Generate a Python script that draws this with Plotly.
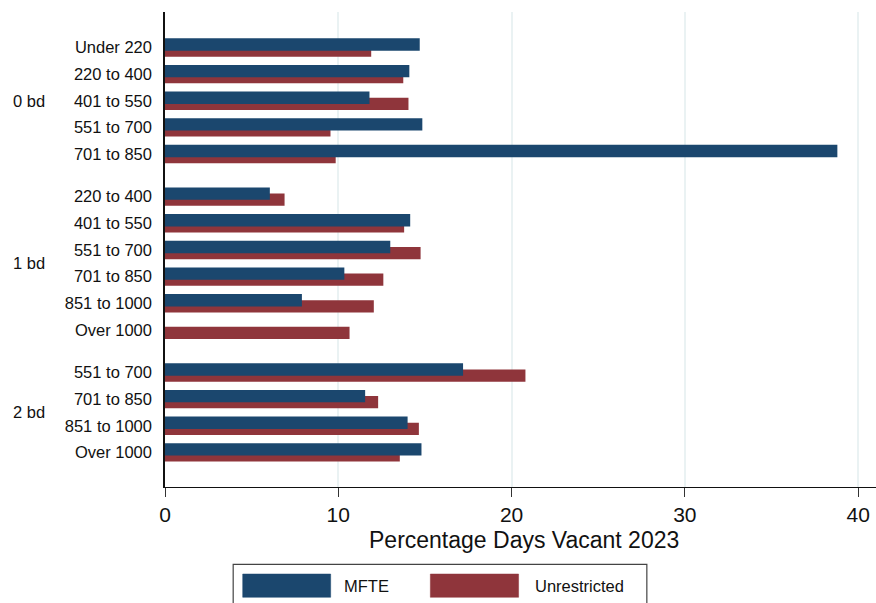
import plotly.graph_objects as go

# ---------------- data ----------------
groups = ["0 bd", "1 bd", "2 bd"]
ranges_0bd = ["Under 220", "220 to 400", "401 to 550", "551 to 700", "701 to 850"]
ranges_1bd = ["220 to 400", "401 to 550", "551 to 700", "701 to 850", "851 to 1000", "Over 1000"]
ranges_2bd = ["551 to 700", "701 to 850", "851 to 1000", "Over 1000"]

mfte_0bd = [14.7, 14.1, 11.8, 14.85, 38.8]
unres_0bd = [11.9, 13.75, 14.05, 9.55, 9.85]
mfte_1bd = [6.05, 14.15, 13.0, 10.35, 7.9, None]
unres_1bd = [6.9, 13.8, 14.75, 12.6, 12.05, 10.65]
mfte_2bd = [17.2, 11.55, 14.0, 14.8]
unres_2bd = [20.8, 12.3, 14.65, 13.55]

x_ticks = [0, 10, 20, 30, 40]
x_title = "Percentage Days Vacant 2023"
series_names = ["MFTE", "Unrestricted"]

# ---------------- styling ----------------
BLUE = "#1b476e"
RED = "#8f353b"
GRID = "#eaf2f3"
FONT = "Liberation Sans, Arial, sans-serif"
GROUP_GAP = 0.6

# build y positions (category slots) per group
all_ranges = [ranges_0bd, ranges_1bd, ranges_2bd]
all_mfte = [mfte_0bd, mfte_1bd, mfte_2bd]
all_unres = [unres_0bd, unres_1bd, unres_2bd]

pos, labels, mfte, unres, group_centers = [], [], [], [], []
cur = 0.0
for rng, m, u in zip(all_ranges, all_mfte, all_unres):
    start = cur
    for lab, mv, uv in zip(rng, m, u):
        pos.append(cur)
        labels.append(lab)
        mfte.append(mv)
        unres.append(uv)
        cur += 1
    group_centers.append((start + cur - 1) / 2)
    cur += GROUP_GAP

fig = go.Figure()
fig.add_trace(go.Bar(
    x=unres, y=pos, orientation="h", name=series_names[1],
    marker=dict(color=RED, line=dict(width=0)),
    width=0.46, offset=-0.115, showlegend=False,
))
fig.add_trace(go.Bar(
    x=mfte, y=pos, orientation="h", name=series_names[0],
    marker=dict(color=BLUE, line=dict(width=0)),
    width=0.465, offset=-0.345, showlegend=False,
))

# group labels
for g, c in zip(groups, group_centers):
    fig.add_annotation(
        text=g, x=-0.2171, xref="paper", y=c, yref="y",
        xanchor="left", yanchor="middle", showarrow=False,
        font=dict(family=FONT, size=16.5, color="#111"),
    )

# x axis title
fig.add_annotation(
    text=x_title, x=0.5045, xref="paper", y=-0.112, yref="paper",
    xanchor="center", yanchor="middle", showarrow=False,
    font=dict(family=FONT, size=23, color="#111"),
)

# custom legend (box + swatches + labels)
fig.add_shape(type="rect", xref="paper", yref="paper",
              x0=0.0959, x1=0.6777, y0=-0.27, y1=-0.1627,
              line=dict(color="#444", width=1.2), fillcolor="white")
fig.add_shape(type="rect", xref="paper", yref="paper",
              x0=0.1093, x1=0.2330, y0=-0.2322, y1=-0.1832,
              line=dict(color=BLUE, width=0.5), fillcolor=BLUE)
fig.add_shape(type="rect", xref="paper", yref="paper",
              x0=0.3732, x1=0.4973, y0=-0.2322, y1=-0.1832,
              line=dict(color=RED, width=0.5), fillcolor=RED)
for name, xl in zip(series_names, [0.2495, 0.5175]):
    fig.add_annotation(
        text=name, x=xl, xref="paper", y=-0.2077, yref="paper",
        xanchor="left", yanchor="middle", showarrow=False,
        font=dict(family=FONT, size=16.5, color="#111"),
    )

fig.update_layout(
    width=876, height=603,
    margin=dict(l=164.5, r=0, t=12, b=116, pad=0),
    paper_bgcolor="white", plot_bgcolor="white",
    barmode="overlay",
    font=dict(family=FONT, color="#111"),
    hovermode=False,
)
fig.update_xaxes(
    range=[0, 41.03], tickvals=x_ticks, ticktext=[str(v) for v in x_ticks],
    showgrid=True, gridcolor=GRID, gridwidth=1.5,
    zeroline=False, showline=True, linecolor="#111", linewidth=1.3,
    ticks="outside", ticklen=9, tickwidth=1.3, tickcolor="#333",
    tickfont=dict(family=FONT, size=21, color="#111"),
    automargin=False,
)
fig.update_yaxes(
    range=[16.5, -1.333], tickvals=pos, ticktext=labels,
    showgrid=False, zeroline=False, showline=True, linecolor="#111", linewidth=1.5,
    ticks="outside", ticklen=8, tickcolor="rgba(0,0,0,0)",
    tickfont=dict(family=FONT, size=16.5, color="#111"),
    automargin=False,
)

fig.write_html(
    "out.html",
    config={"displayModeBar": False},
    post_script="document.body.style.margin='0';document.body.style.overflow='hidden';",
)
